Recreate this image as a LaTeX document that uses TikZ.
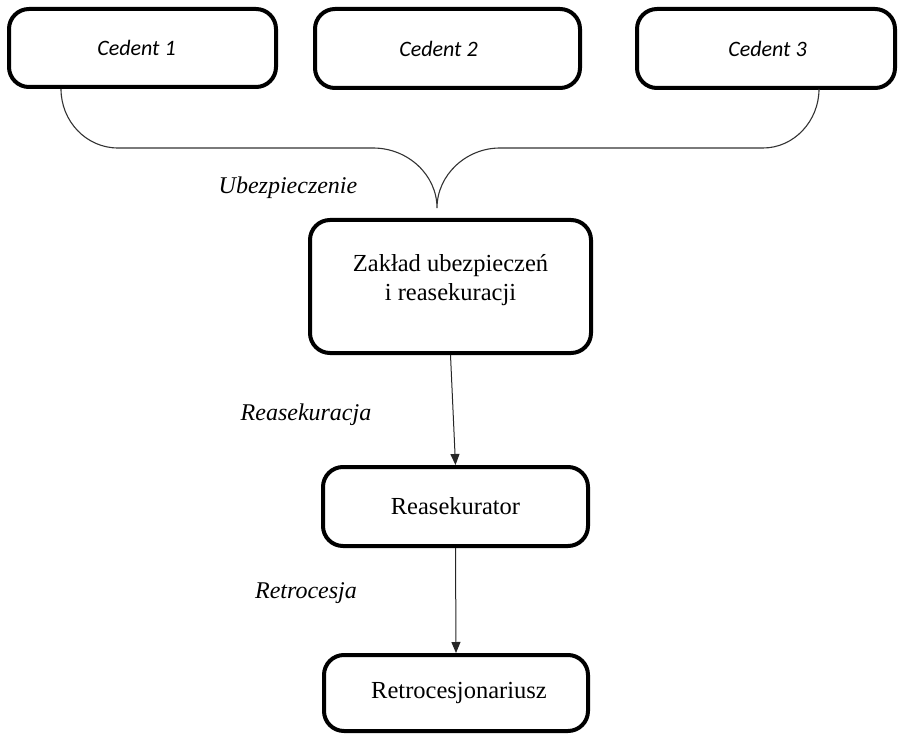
\documentclass[tikz,border=0pt]{standalone}
\usepackage{fontspec}
\setmainfont{Liberation Serif}
\newfontfamily\calib{Carlito}
\usetikzlibrary{arrows.meta}
\begin{document}
\begin{tikzpicture}[x=1pt,y=-1pt,
  boxstyle/.style={draw=black, line width=4pt, rounded corners=20pt, fill=white,
    align=center, inner sep=0pt, font=\fontsize{24.5}{29}\selectfont},
  cedent/.style={boxstyle, font=\calib\itshape\fontsize{22}{26}\selectfont},
  lbl/.style={font=\itshape\fontsize{24}{28}\selectfont, inner sep=0pt},
  brace/.style={draw=black!80, line width=1.1pt},
  flow/.style={draw=black!85, line width=1pt, -{Triangle[length=11pt,width=9pt]}}]
\useasboundingbox (0,0) rectangle (899,735);
% top boxes
\node[cedent, minimum width=267pt, minimum height=78pt] (c1) at (142.5,48) {\hspace*{-12pt}Cedent 1};
\node[cedent, minimum width=265pt, minimum height=79pt] (c2) at (447.5,48.5) {\hspace*{-18pt}Cedent 2};
\node[cedent, minimum width=258pt, minimum height=79pt] (c3) at (766,48.5) {\hspace*{3pt}Cedent 3};
% main boxes
\node[boxstyle, minimum width=281pt, minimum height=133pt] (zak) at (450.5,286.5)
  {Zakład ubezpieczeń\\ i reasekuracji\\[-11pt]\mbox{}};
\node[boxstyle, minimum width=265pt, minimum height=79pt] (reas) at (455.5,506.5) {Reasekurator};
\node[boxstyle, minimum width=264pt, minimum height=76pt] (retro) at (456,693) {\hspace*{6pt}Retrocesjonariusz};
% brace
\coordinate (bL) at (61,89);
\coordinate (bR) at (819,89);
\coordinate (tip) at (437,208);
\draw[brace] (bL) .. controls (61,121) and (86,148) .. (118,148)
  -- (373,148) .. controls (408,148) and (437,175) .. (tip)
  .. controls (437,175) and (466,148) .. (500,148)
  -- (763,148) .. controls (794,148) and (819,121) .. (bR);
% labels
\node[lbl] (l1) at (288,188) {Ubezpieczenie};
\node[lbl] (l2) at (306,415) {Reasekuracja};
\node[lbl] (l3) at (306,593) {Retrocesja};
% arrows
\draw[flow] (zak.south) -- (reas.north);
\draw[flow] (reas.south) -- (retro.north);
\end{tikzpicture}
\end{document}
